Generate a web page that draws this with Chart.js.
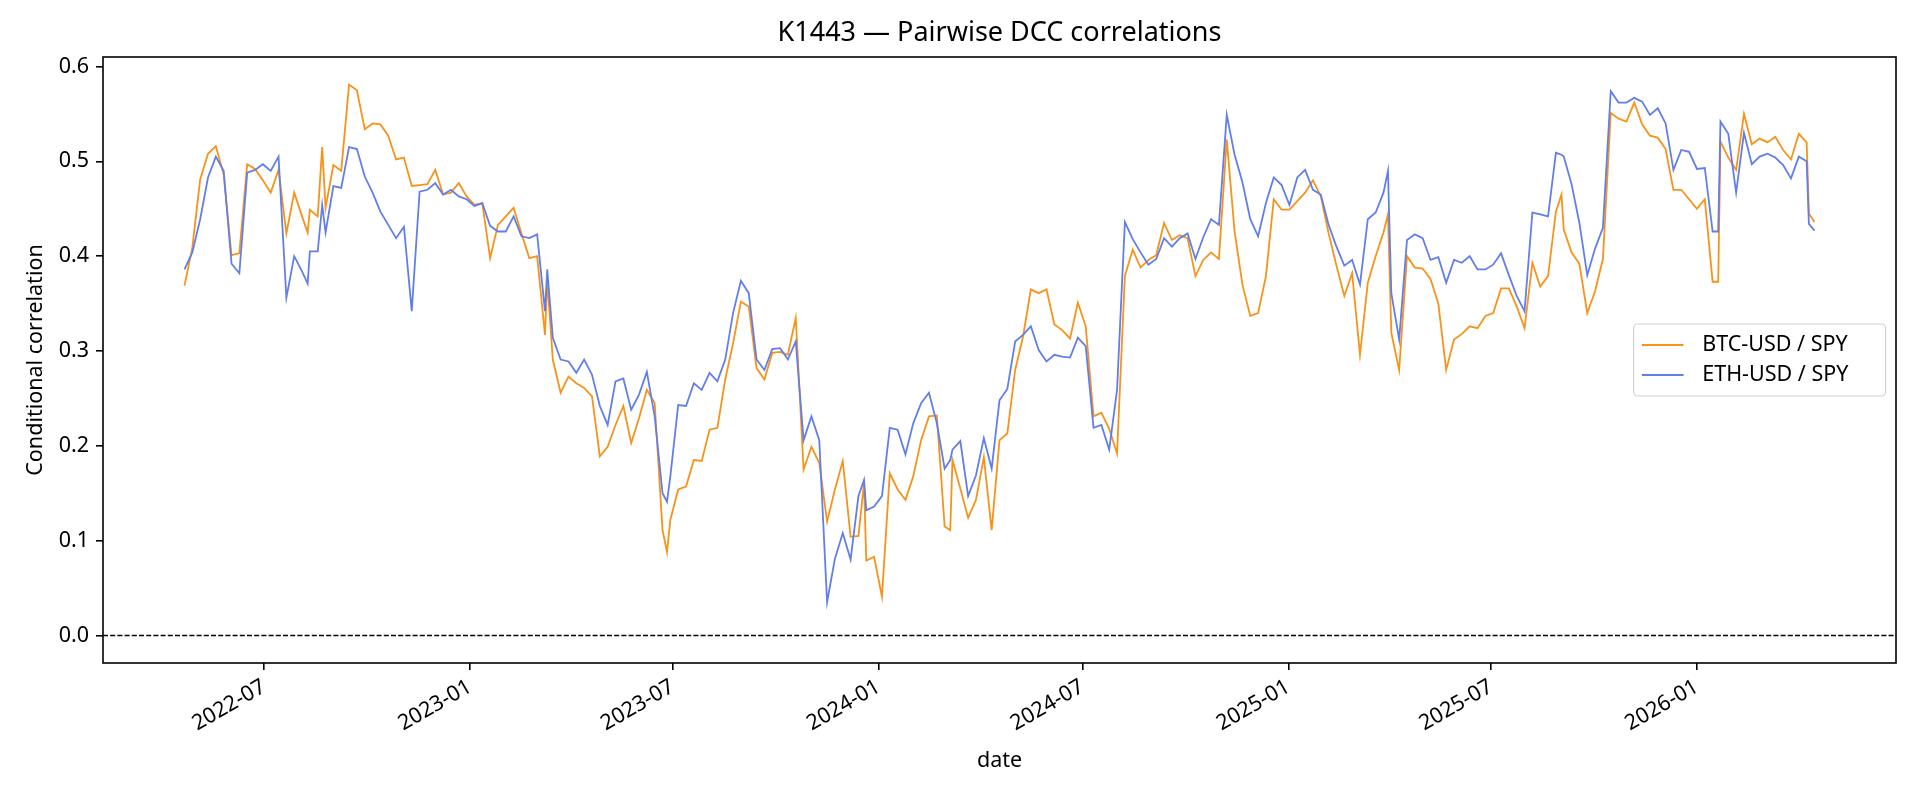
<!DOCTYPE html>
<html>
<head>
<meta charset="utf-8">
<title>K1443 — Pairwise DCC correlations</title>
<script src="https://cdn.jsdelivr.net/npm/chart.js@4.4.1/dist/chart.umd.min.js"></script>
<style>
  html, body { margin: 0; padding: 0; background: #ffffff; }
  #chart { display: block; }
</style>
</head>
<body>
<canvas id="chart" width="1920" height="800"></canvas>
<script>
// weekly readings of the two DCC series (a few extra dates keep the short spikes)
const dates = [
  '2022-04-21','2022-04-28','2022-05-05','2022-05-12','2022-05-19','2022-05-26','2022-06-02','2022-06-09',
  '2022-06-16','2022-06-23','2022-06-30','2022-07-07','2022-07-14','2022-07-21','2022-07-28','2022-08-04',
  '2022-08-09','2022-08-11','2022-08-18','2022-08-22','2022-08-25','2022-09-01','2022-09-08','2022-09-15',
  '2022-09-22','2022-09-29','2022-10-06','2022-10-13','2022-10-20','2022-10-27','2022-11-03','2022-11-10',
  '2022-11-17','2022-11-24','2022-12-01','2022-12-08','2022-12-15','2022-12-22','2022-12-29','2023-01-05',
  '2023-01-12','2023-01-19','2023-01-26','2023-02-02','2023-02-09','2023-02-16','2023-02-23','2023-03-02',
  '2023-03-09','2023-03-11','2023-03-16','2023-03-23','2023-03-30','2023-04-06','2023-04-13','2023-04-20',
  '2023-04-27','2023-05-04','2023-05-11','2023-05-18','2023-05-25','2023-06-01','2023-06-08','2023-06-15',
  '2023-06-22','2023-06-26','2023-06-29','2023-07-06','2023-07-13','2023-07-20','2023-07-27','2023-08-03',
  '2023-08-10','2023-08-17','2023-08-24','2023-08-31','2023-09-07','2023-09-14','2023-09-21','2023-09-28',
  '2023-10-05','2023-10-12','2023-10-19','2023-10-26','2023-11-02','2023-11-09','2023-11-16','2023-11-23',
  '2023-11-30','2023-12-07','2023-12-14','2023-12-19','2023-12-21','2023-12-28','2024-01-04','2024-01-11',
  '2024-01-18','2024-01-25','2024-02-01','2024-02-08','2024-02-15','2024-02-22','2024-02-29','2024-03-05',
  '2024-03-07','2024-03-14','2024-03-21','2024-03-28','2024-04-04','2024-04-11','2024-04-18','2024-04-25',
  '2024-05-02','2024-05-09','2024-05-16','2024-05-23','2024-05-30','2024-06-06','2024-06-13','2024-06-20',
  '2024-06-27','2024-07-04','2024-07-11','2024-07-18','2024-07-25','2024-08-01','2024-08-08','2024-08-15',
  '2024-08-22','2024-08-29','2024-09-05','2024-09-12','2024-09-19','2024-09-26','2024-10-03','2024-10-10',
  '2024-10-17','2024-10-24','2024-10-31','2024-11-07','2024-11-14','2024-11-21','2024-11-28','2024-12-05',
  '2024-12-12','2024-12-19','2024-12-26','2025-01-02','2025-01-09','2025-01-16','2025-01-23','2025-01-30',
  '2025-02-06','2025-02-13','2025-02-20','2025-02-27','2025-03-06','2025-03-13','2025-03-20','2025-03-27',
  '2025-03-31','2025-04-03','2025-04-10','2025-04-17','2025-04-24','2025-05-01','2025-05-08','2025-05-15',
  '2025-05-22','2025-05-29','2025-06-05','2025-06-12','2025-06-19','2025-06-26','2025-07-03','2025-07-10',
  '2025-07-17','2025-07-24','2025-07-31','2025-08-07','2025-08-14','2025-08-21','2025-08-28','2025-09-02',
  '2025-09-04','2025-09-11','2025-09-18','2025-09-25','2025-10-02','2025-10-09','2025-10-16','2025-10-23',
  '2025-10-30','2025-11-06','2025-11-13','2025-11-20','2025-11-27','2025-12-04','2025-12-11','2025-12-18',
  '2025-12-25','2026-01-01','2026-01-08','2026-01-15','2026-01-20','2026-01-22','2026-01-29','2026-02-05',
  '2026-02-12','2026-02-19','2026-02-26','2026-03-05','2026-03-12','2026-03-19','2026-03-26','2026-04-02',
  '2026-04-09','2026-04-11','2026-04-16'
];

const btcSpy = [
  .369,.409,.481,.508,.516,.486,.401,.403,
  .497,.492,.480,.467,.491,.424,.467,.442,
  .425,.449,.442,.515,.451,.496,.490,.581,
  .575,.534,.540,.539,.527,.502,.504,.474,
  .475,.476,.491,.465,.467,.477,.463,.454,
  .456,.398,.433,.442,.451,.424,.398,.400,
  .317,.375,.291,.256,.273,.266,.261,.252,
  .189,.199,.222,.242,.203,.229,.259,.245,
  .111,.088,.122,.154,.157,.185,.184,.217,
  .219,.270,.308,.352,.347,.282,.270,.298,
  .299,.296,.335,.175,.199,.182,.120,.154,
  .184,.104,.105,.161,.079,.083,.041,.171,
  .154,.143,.168,.206,.231,.232,.115,.111,
  .185,.155,.124,.143,.188,.111,.206,.213,
  .280,.315,.365,.361,.365,.328,.322,.313,
  .351,.326,.231,.235,.218,.192,.379,.407,
  .388,.396,.401,.435,.417,.422,.419,.379,
  .396,.404,.397,.523,.426,.370,.337,.340,
  .379,.460,.449,.449,.458,.467,.480,.463,
  .424,.390,.358,.382,.296,.372,.400,.425,
  .444,.319,.280,.400,.388,.387,.376,.350,
  .280,.312,.318,.326,.324,.337,.340,.366,
  .366,.347,.324,.393,.368,.379,.447,.465,
  .428,.404,.392,.340,.363,.397,.551,.545,
  .542,.562,.539,.527,.525,.513,.470,.470,
  .460,.450,.460,.373,.373,.521,.504,.491,
  .550,.518,.524,.520,.526,.512,.502,.529,
  .520,.445,.436
];

const ethSpy = [
  .386,.404,.439,.483,.505,.490,.392,.382,
  .488,.491,.497,.490,.505,.356,.400,.384,
  .371,.405,.405,.454,.425,.474,.472,.515,
  .513,.484,.467,.447,.433,.419,.431,.342,
  .468,.470,.477,.465,.470,.463,.460,.453,
  .456,.432,.426,.426,.442,.421,.419,.423,
  .342,.386,.314,.291,.289,.277,.291,.275,
  .242,.222,.268,.271,.238,.254,.278,.231,
  .150,.141,.168,.243,.242,.266,.259,.277,
  .268,.291,.340,.374,.361,.291,.280,.302,
  .303,.291,.310,.206,.231,.206,.035,.081,
  .108,.080,.147,.164,.132,.136,.147,.219,
  .217,.191,.224,.245,.256,.224,.176,.185,
  .196,.205,.147,.169,.208,.176,.248,.260,
  .310,.317,.326,.301,.289,.296,.294,.293,
  .314,.305,.219,.222,.196,.259,.436,.418,
  .404,.391,.397,.419,.410,.419,.424,.397,
  .420,.439,.433,.549,.507,.478,.439,.421,
  .456,.483,.475,.454,.483,.491,.470,.465,
  .433,.410,.390,.396,.370,.439,.446,.467,
  .490,.361,.312,.417,.423,.419,.396,.399,
  .372,.396,.393,.400,.386,.386,.391,.403,
  .380,.358,.342,.446,.444,.442,.509,.507,
  .505,.476,.435,.380,.408,.430,.574,.562,
  .562,.567,.563,.549,.556,.540,.491,.512,
  .510,.492,.493,.426,.426,.542,.529,.467,
  .530,.497,.505,.508,.504,.496,.482,.505,
  .500,.434,.427
];

const seriesNames = ['BTC-USD / SPY', 'ETH-USD / SPY'];
const seriesColors = ['#F7931A', '#627EEA'];
const xTickLabels = ['2022-07','2023-01','2023-07','2024-01','2024-07','2025-01','2025-07','2026-01'];
const yTickValues = [0.0, 0.1, 0.2, 0.3, 0.4, 0.5, 0.6];

const FONT = "'Noto Sans', 'DejaVu Sans', sans-serif";
const TEXT_SIZE = 21.5;
Chart.defaults.font.family = FONT;
Chart.defaults.color = '#000000';

// x values as timestamps, axis limits with the 5% margins
const xs = dates.map(d => Date.parse(d));
const xSpan = xs[xs.length - 1] - xs[0];
const xMin = xs[0] - 0.05 * xSpan;
const xMax = xs[xs.length - 1] + 0.05 * xSpan;
const yHi = Math.max(...btcSpy, ...ethSpy);
const yLo = 0;
const yMin = yLo - 0.05 * (yHi - yLo);
const yMax = yHi + 0.05 * (yHi - yLo);

function toPoints(values) {
  return values.map((v, i) => ({ x: xs[i], y: v }));
}

// black box round the plot area
const frame = {
  id: 'frame',
  afterDatasetsDraw(chart) {
    const a = chart.chartArea, ctx = chart.ctx;
    ctx.save();
    ctx.strokeStyle = '#000000';
    ctx.lineWidth = 1.6;
    ctx.strokeRect(a.left, a.top, a.right - a.left, a.bottom - a.top);
    ctx.restore();
  }
};

// legend box at the right middle of the axes
const legendBox = {
  id: 'legendBox',
  afterDraw(chart) {
    const a = chart.chartArea, ctx = chart.ctx;
    const fs = 20.8;
    const items = chart.data.datasets.filter(d => seriesNames.includes(d.label));
    ctx.save();
    ctx.font = TEXT_SIZE + 'px ' + FONT;
    const textW = Math.max(...items.map(d => ctx.measureText(d.label).width));
    const pad = 0.4 * fs, hl = 2 * fs, hp = 0.9 * fs, rowH = 30;
    const w = Math.max(pad * 2 + hl + hp + textW + 4, 252);
    const h = 72;
    const x = a.right - 0.5 * fs - w;
    const y = (a.top + a.bottom) / 2 - h / 2;
    ctx.beginPath();
    ctx.roundRect(x, y, w, h, 4);
    ctx.fillStyle = 'rgba(255,255,255,0.8)';
    ctx.fill();
    ctx.strokeStyle = '#d2d2d2';
    ctx.lineWidth = 1.2;
    ctx.stroke();
    items.forEach((d, i) => {
      const cy = y + h / 2 + (i - 0.5) * rowH;
      ctx.beginPath();
      ctx.moveTo(x + pad, cy);
      ctx.lineTo(x + pad + hl, cy);
      ctx.strokeStyle = d.borderColor;
      ctx.lineWidth = 1.8;
      ctx.stroke();
      ctx.fillStyle = '#000000';
      ctx.textAlign = 'left';
      ctx.textBaseline = 'middle';
      ctx.fillText(d.label, x + pad + hl + hp, cy);
    });
    ctx.restore();
  }
};

const tickFont = { size: TEXT_SIZE };

new Chart(document.getElementById('chart'), {
  type: 'line',
  data: {
    datasets: [
      {
        label: seriesNames[0],
        data: toPoints(btcSpy),
        borderColor: seriesColors[0],
        borderWidth: 1.8,
        pointRadius: 0,
        tension: 0,
        order: 2
      },
      {
        label: seriesNames[1],
        data: toPoints(ethSpy),
        borderColor: seriesColors[1],
        borderWidth: 1.8,
        pointRadius: 0,
        tension: 0,
        order: 1
      },
      {
        label: 'zero',
        data: [{ x: xMin, y: 0 }, { x: xMax, y: 0 }],
        borderColor: '#000000',
        borderWidth: 1.4,
        borderDash: [5, 2.2],
        pointRadius: 0,
        order: 0
      }
    ]
  },
  options: {
    responsive: false,
    animation: false,
    devicePixelRatio: 1,
    layout: { padding: { left: 0, right: 24, top: 0, bottom: 0 } },
    plugins: {
      legend: { display: false },
      tooltip: { enabled: false },
      title: {
        display: true,
        fullSize: false,
        text: 'K1443 — Pairwise DCC correlations',
        color: '#000000',
        font: { size: 27, weight: 'normal' },
        padding: { top: 17, bottom: 7.6 }
      }
    },
    scales: {
      x: {
        type: 'linear',
        min: xMin,
        max: xMax,
        afterBuildTicks: s => { s.ticks = xTickLabels.map(t => ({ value: Date.parse(t + '-01') })); },
        afterFit: s => { s.height = 137; },
        ticks: {
          autoSkip: false,
          minRotation: 30,
          maxRotation: 30,
          padding: 4,
          font: tickFont,
          callback: v => new Date(v).toISOString().slice(0, 7)
        },
        grid: { drawOnChartArea: false, drawTicks: true, tickLength: 7, color: '#000000', lineWidth: 1.6 },
        border: { display: false },
        title: { display: true, text: 'date', font: tickFont, padding: { top: 0, bottom: 26 } }
      },
      y: {
        min: yMin,
        max: yMax,
        afterBuildTicks: s => { s.ticks = yTickValues.map(v => ({ value: v })); },
        afterFit: s => { s.width = 103; },
        ticks: { padding: 7, font: tickFont, callback: v => v.toFixed(1) },
        grid: { drawOnChartArea: false, drawTicks: true, tickLength: 7, color: '#000000', lineWidth: 1.6 },
        border: { display: false },
        title: { display: true, text: 'Conditional correlation', font: tickFont, padding: { top: 23, bottom: 0 } }
      }
    }
  },
  plugins: [frame, legendBox]
});
</script>
</body>
</html>
